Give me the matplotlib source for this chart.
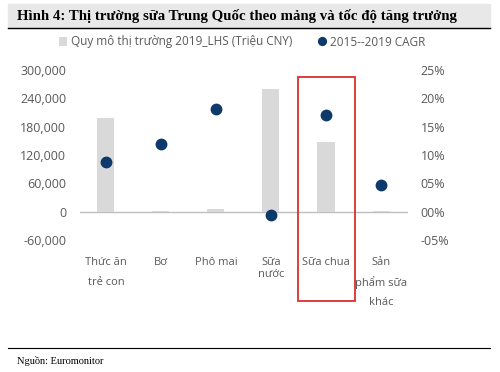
import matplotlib.pyplot as plt
from matplotlib.patches import Rectangle
import matplotlib.transforms as mtransforms
import numpy as np

categories = ['Thức ăn\ntrẻ con', 'Bơ', 'Phô mai', 'Sữa\nnước', 'Sữa chua', 'Sản\nphẩm sữa\nkhác']
market_size = [198000, 2000, 6000, 259000, 147000, 2000]   # Triệu CNY
cagr = [8.7, 11.9, 18.1, -0.6, 17.0, 4.7]                     # %
left_ticks = [-60000, 0, 60000, 120000, 180000, 240000, 300000]
right_ticks = [-5, 0, 5, 10, 15, 20, 25]
linespacings = [2.2, 1.2, 1.2, 1.2, 1.2, 1.9]

GREY_TXT = '#595959'
BAR = '#D9D9D9'
DOT = '#0E3A6B'

plt.rcParams['font.family'] = ['Open Sans', 'DejaVu Sans']

fig = plt.figure(figsize=(5, 3.72), dpi=100)
W, H = 500, 372

# title band
fig.patches.append(Rectangle((8 / W, 1 - 28 / H), 482 / W, 24 / H,
                             transform=fig.transFigure, color='#E8E8E8', zorder=0))
fig.add_artist(plt.Line2D([8 / W, 490 / W], [1 - 28 / H, 1 - 28 / H],
                          transform=fig.transFigure, color='black', lw=1))
fig.text(17 / W, 1 - 16 / H, 'Hình 4: Thị trường sữa Trung Quốc theo mảng và tốc độ tăng trưởng',
         family='Liberation Serif', fontweight='bold', fontsize=10.7, va='center', ha='left')

ax = fig.add_axes([80 / W, 1 - 240 / H, 328 / W, 170 / H])
x = np.arange(len(categories))
ax.bar(x, market_size, width=0.31, color=BAR, zorder=1, label='Quy mô thị trường 2019_LHS (Triệu CNY)')
ax.axhline(0, color='#BFBFBF', lw=1, zorder=0.5)
ax.set_ylim(-60000, 300000)
ax.set_xlim(-0.47, 5.49)
ax.set_yticks(left_ticks)
ax.set_yticklabels([f'{v:,}' for v in left_ticks])
ax.set_xticks(x)
ax.set_xticklabels(categories)
for lbl, ls in zip(ax.get_xticklabels(), linespacings):
    lbl.set_linespacing(ls)
ax.tick_params(axis='both', length=0, colors=GREY_TXT, labelsize=9)
ax.tick_params(axis='y', pad=10)
ax.tick_params(axis='x', pad=12, labelsize=8)
for s in ax.spines.values():
    s.set_visible(False)

ax2 = ax.twinx()
ax2.plot(x, cagr, 'o', color=DOT, markersize=7.5, zorder=3, label='2015--2019 CAGR')
ax2.set_ylim(-5, 25)
ax2.set_yticks(right_ticks)
ax2.set_yticklabels([f'-{abs(v):02d}%' if v < 0 else f'{v:02d}%' for v in right_ticks])
ax2.tick_params(axis='y', length=0, colors=GREY_TXT, labelsize=9, pad=9)
for s in ax2.spines.values():
    s.set_visible(False)

# highlight box around Sữa chua
trans = mtransforms.blended_transform_factory(ax.transData, ax.transAxes)
ax.add_patch(Rectangle((3.49, -0.36), 1.04, 1.32, transform=trans, fill=False,
                       edgecolor='#D9312B', lw=1.3, clip_on=False, zorder=5))

h1, l1 = ax.get_legend_handles_labels()
h2, l2 = ax2.get_legend_handles_labels()
fig.legend(h1 + h2, l1 + l2, loc='center', bbox_to_anchor=(242 / W, 1 - 42 / H), ncol=2,
           frameon=False, fontsize=8.5, labelcolor=GREY_TXT, handlelength=0.7,
           handletextpad=0.3, columnspacing=2.2, markerscale=0.75)

# footer
fig.add_artist(plt.Line2D([8 / W, 490 / W], [1 - 348 / H, 1 - 348 / H],
                          transform=fig.transFigure, color='black', lw=0.8))
fig.text(17 / W, 1 - 361 / H, 'Nguồn: Euromonitor', family='Liberation Serif',
         fontsize=7.5, va='center', ha='left')

plt.savefig('out.png', dpi=100)
